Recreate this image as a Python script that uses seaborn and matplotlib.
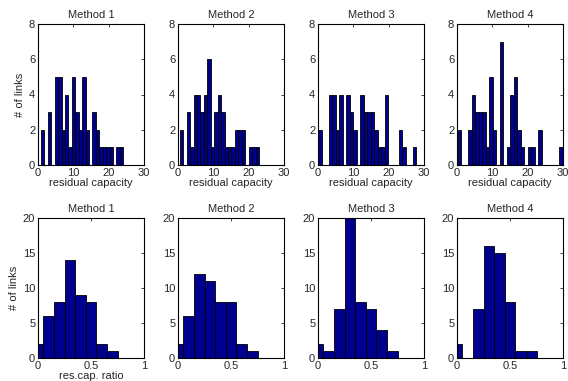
import numpy as np
import pandas as pd
import matplotlib
matplotlib.use("Agg")
import matplotlib.pyplot as plt
import seaborn as sns

# ---------------- data ----------------
methods = ["Method 1", "Method 2", "Method 3", "Method 4"]

# top row: residual capacity histograms (counts per bin, bin start, bin width)
resid_counts_m1 = [2, 0, 3, 0, 5, 5, 2, 4, 1, 5, 3, 2, 5, 2, 0, 3, 2, 1, 1, 1, 1, 0, 1, 1]
resid_counts_m2 = [2, 0, 3, 1, 4, 4, 3, 4, 6, 1, 3, 4, 3, 1, 1, 1, 2, 2, 2, 0, 1, 1, 1]
resid_counts_m3 = [2, 0, 0, 4, 4, 2, 4, 0, 4, 3, 2, 0, 4, 3, 3, 3, 2, 1, 1, 4,
                   0, 0, 0, 2, 1, 0, 0, 1]
resid_counts_m4 = [2, 0, 0, 2, 4, 3, 3, 3, 1, 5, 2, 0, 7, 0, 1, 4, 5, 2, 1, 0,
                   1, 1, 0, 2, 0, 0, 0, 0, 0, 1]
resid_bin_start = [0.84, 0.50, 0.06, 0.20]
resid_bin_width = [0.970, 0.975, 0.990, 0.990]

# bottom row: residual capacity ratio histograms (bin centres 0, 0.1, ..., 1.0)
ratio_centers = [0.0, 0.1, 0.2, 0.3, 0.4, 0.5, 0.6, 0.7, 0.8, 0.9, 1.0]
ratio_counts_m1 = [2, 6, 8, 14, 9, 8, 2, 1, 0, 0, 0]
ratio_counts_m2 = [2, 6, 12, 11, 8, 8, 2, 1, 0, 0, 0]
ratio_counts_m3 = [2, 1, 7, 20, 8, 7, 4, 1, 0, 0, 0]
ratio_counts_m4 = [2, 0, 7, 16, 15, 8, 1, 1, 0, 0, 0]

resid_counts = [resid_counts_m1, resid_counts_m2, resid_counts_m3, resid_counts_m4]
ratio_counts = [ratio_counts_m1, ratio_counts_m2, ratio_counts_m3, ratio_counts_m4]

# ---------------- style ----------------
FS = 8
sns.set_style("white")
plt.rcParams.update({
    "font.family": ["Liberation Sans", "DejaVu Sans"],
    "font.size": FS,
    "xtick.direction": "in",
    "ytick.direction": "in",
    "xtick.top": True,
    "ytick.right": True,
    "xtick.major.size": 2.5,
    "ytick.major.size": 2.5,
    "xtick.major.width": 0.6,
    "ytick.major.width": 0.6,
    "xtick.major.pad": 2,
    "ytick.major.pad": 2,
    "axes.linewidth": 0.8,
    "axes.edgecolor": "black",
})

BAR = "#00008F"
W, H = 568, 381
fig = plt.figure(figsize=(W / 100, H / 100), dpi=100)

lefts = [38, 178, 318, 457]
ax_w = 106


def draw_hist(ax, centers, counts, edges):
    df = pd.DataFrame({"x": [float(v) for v in centers],
                       "count": [float(v) for v in counts]})
    sns.histplot(data=df, x="x", weights="count",
                 bins=[float(e) for e in edges], ax=ax,
                 color=BAR, alpha=1, edgecolor="black", linewidth=0.6)


for i in range(4):
    # ---- top row ----
    ax = fig.add_axes([lefts[i] / W, 1 - 165 / H, ax_w / W, 141 / H])
    c = resid_counts[i]
    n = len(c)
    s, w = resid_bin_start[i], resid_bin_width[i]
    edges = s + np.arange(n + 1) * w
    centers = s + (np.arange(n) + 0.5) * w
    draw_hist(ax, centers, c, edges)
    ax.set_xlim(0, 30)
    ax.set_ylim(0, 8)
    ax.set_xticks([0, 10, 20, 30])
    ax.set_yticks([0, 2, 4, 6, 8])
    ax.set_title(methods[i], fontsize=FS, pad=4)
    ax.set_xlabel("residual capacity", fontsize=FS, labelpad=0)
    ax.set_ylabel("# of links" if i == 0 else "", fontsize=FS, labelpad=3)
    ax.tick_params(labelsize=FS)

    # ---- bottom row ----
    ax2 = fig.add_axes([lefts[i] / W, 1 - 358 / H, ax_w / W, 140 / H])
    cen = np.array(ratio_centers)
    bw = cen[1] - cen[0]
    redges = np.concatenate([cen - bw / 2, [cen[-1] + bw / 2]])
    draw_hist(ax2, cen, ratio_counts[i], redges)
    ax2.set_xlim(0, 1)
    ax2.set_ylim(0, 20)
    ax2.set_xticks([0, 0.5, 1])
    ax2.set_xticklabels(["0", "0.5", "1"])
    ax2.set_yticks([0, 5, 10, 15, 20])
    ax2.set_title(methods[i], fontsize=FS, pad=4)
    ax2.set_xlabel("res.cap. ratio" if i == 0 else "", fontsize=FS, labelpad=0)
    ax2.set_ylabel("# of links" if i == 0 else "", fontsize=FS, labelpad=3)
    ax2.tick_params(labelsize=FS)

    for a in (ax, ax2):
        for sp in a.spines.values():
            sp.set_visible(True)
            sp.set_color("black")
            sp.set_linewidth(0.8)

fig.savefig("out.png", dpi=100)
